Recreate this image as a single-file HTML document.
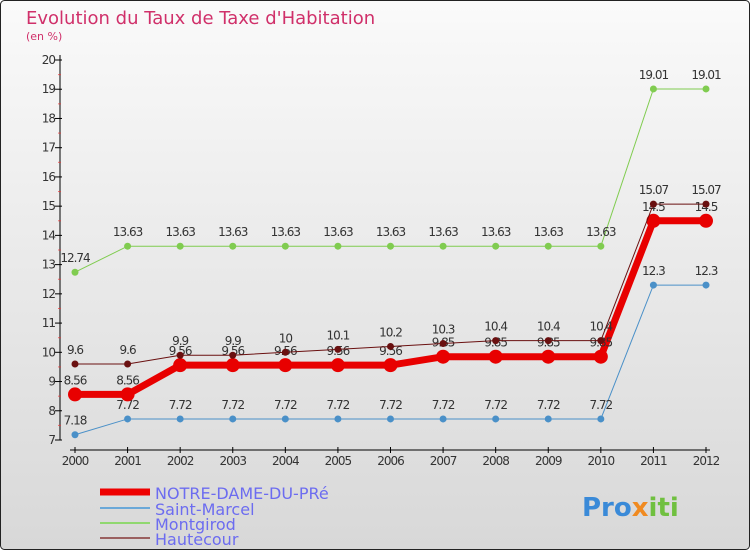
<!DOCTYPE html>
<html><head><meta charset="utf-8"><style>
body{margin:0}
#c{width:750px;height:550px;position:relative;overflow:hidden;font-family:"DejaVu Sans","Liberation Sans",sans-serif;}
</style></head><body>
<div id="c">
<svg id="s" width="750" height="550" xmlns="http://www.w3.org/2000/svg">
<defs><linearGradient id="bg" x1="0" y1="0" x2="0" y2="1"><stop offset="0" stop-color="#fafafa"/><stop offset="1" stop-color="#d8d8d8"/></linearGradient></defs>
<rect x="0.5" y="0.5" width="749" height="549" rx="4" fill="url(#bg)" stroke="#222"/>
<text x="26" y="24" font-size="18" fill="#d0306a">Evolution du Taux de Taxe d'Habitation</text>
<text x="26" y="40" font-size="11" fill="#d0306a">(en %)</text>
<g id="axes"></g><g id="series"></g>
<g>
<line x1="100" y1="492" x2="150" y2="492" stroke="#e00" stroke-width="7"/>
<text x="155" y="499" font-size="16" fill="#6c6cf0">NOTRE-DAME-DU-PRé</text>
<line x1="100" y1="508" x2="150" y2="508" stroke="#6aa8d8" stroke-width="2"/>
<text x="155" y="515" font-size="16" fill="#6c6cf0">Saint-Marcel</text>
<line x1="100" y1="523" x2="150" y2="523" stroke="#90d870" stroke-width="2"/>
<text x="155" y="530" font-size="16" fill="#6c6cf0">Montgirod</text>
<line x1="100" y1="538" x2="150" y2="538" stroke="#9a6060" stroke-width="2"/>
<text x="155" y="545" font-size="16" fill="#6c6cf0">Hautecour</text>
</g>
<text x="582" y="516" font-size="26" font-weight="bold" fill="#3a8ad8">Pro<tspan fill="#f08a20">x</tspan><tspan fill="#70c040">iti</tspan></text>
</svg>
</div>
<script>
const years=[2000,2001,2002,2003,2004,2005,2006,2007,2008,2009,2010,2011,2012];
const yTicks=[7,8,9,10,11,12,13,14,15,16,17,18,19,20];
const notreDame=[8.56,8.56,9.56,9.56,9.56,9.56,9.56,9.85,9.85,9.85,9.85,14.5,14.5];
const saintMarcel=[7.18,7.72,7.72,7.72,7.72,7.72,7.72,7.72,7.72,7.72,7.72,12.3,12.3];
const montgirod=[12.74,13.63,13.63,13.63,13.63,13.63,13.63,13.63,13.63,13.63,13.63,19.01,19.01];
const hautecour=[9.6,9.6,9.9,9.9,10,10.1,10.2,10.3,10.4,10.4,10.4,15.07,15.07];
const NS="http://www.w3.org/2000/svg";
const xs=i=>75+i*(706-75)/(years.length-1);
const ys=v=>440-(v-7)*(380/13);
function mk(t,a,p){const e=document.createElementNS(NS,t);for(const k in a)e.setAttribute(k,a[k]);p.appendChild(e);return e;}
const ax=document.getElementById('axes');
const yax=mk('line',{x1:60,y1:55,x2:60,y2:440,stroke:'#000'},ax);


yTicks.forEach(v=>{
 const y=ys(v);
 const t=mk('line',{x1:55,y1:y,x2:62,y2:y,stroke:'#000'},ax);
 
 
 if(v<20){const m=mk('line',{x1:58,y1:y-14.6,x2:61,y2:y-14.6,stroke:'#e33','stroke-opacity':0.7},ax);
 
 }
 const l=mk('text',{x:55,y:y+4,'font-size':12,'text-anchor':'end',fill:'#333','letter-spacing':'-1'},ax);
 l.textContent=v;
 
 
});
const xax=mk('line',{x1:70,y1:450,x2:710,y2:450,stroke:'#000'},ax);


years.forEach((yr,i)=>{
 const x=xs(i);
 const t=mk('line',{x1:x,y1:447,x2:x,y2:453,stroke:'#000'},ax);
 
 
 const l=mk('text',{x:x,y:465,'font-size':12,'text-anchor':'middle',fill:'#333','letter-spacing':'-1'},ax);
 l.textContent=yr;
 
 
});
const sg=document.getElementById('series');
function series(data,color,w,r,name){
 const g=mk('g',{},sg);
 
 
 const p=mk('polyline',{points:data.map((v,i)=>xs(i)+','+ys(v)).join(' '),fill:'none',stroke:color,'stroke-width':w},g);
 
 
 data.forEach((v,i)=>{
  const c=mk('circle',{cx:xs(i),cy:ys(v),r:r,fill:color},g);
  
  
  const l=mk('text',{x:xs(i),y:ys(v)-10,'font-size':12,'text-anchor':'middle',fill:'#333','letter-spacing':'-1'},g);
  l.textContent=v;
  
  
 });
}
series(montgirod,'#80cc50',1,3.5,'montgirod');
series(saintMarcel,'#4a90c8',1,3.5,'saint-marcel');
series(notreDame,'#e80000',7,7,'notre-dame');
series(hautecour,'#6a1010',1,3.5,'hautecour');
</script>
</body></html>
